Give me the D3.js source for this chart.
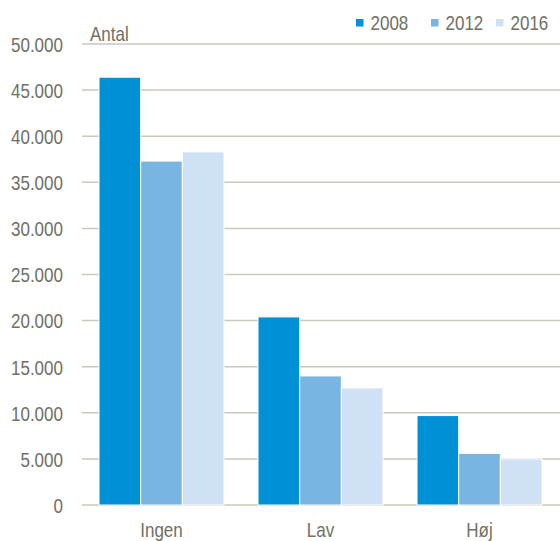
<!DOCTYPE html>
<html><head><meta charset="utf-8">
<script src="https://cdn.jsdelivr.net/npm/d3@7"></script>
<style>
body{margin:0;background:#fff;}
text{font-family:"Liberation Sans",Arial,sans-serif;fill:#707064;}
</style></head><body>
<svg id="c" width="560" height="541"></svg>
<script>
const categories = ["Ingen","Lav","Høj"];
const years = ["2008","2012","2016"];
const v2008 = [46400, 20400, 9700];
const v2012 = [37300, 14000, 5600];
const v2016 = [38300, 12700, 5000];
const yTicks = [0,5000,10000,15000,20000,25000,30000,35000,40000,45000,50000];
const colors = ["#0090d5","#78b5e3","#cfe1f5"];

const FS = "20.5px", SX = 0.83;
const series = [v2008, v2012, v2016];
const data = categories.map((c,i)=>({cat:c, vals: years.map((y,j)=>({year:y, v:series[j][i], j}))}));

const svg = d3.select("#c");
const loc = d3.formatLocale({decimal:",", thousands:".", grouping:[3], currency:["",""]});
const fmt = loc.format(",d");

const x = d3.scaleBand().domain(categories).range([82,559]).paddingInner(0.214).paddingOuter(0.107);
const x1 = d3.scaleBand().domain(years).range([0,x.bandwidth()]).padding(0);
const y = d3.scaleLinear().domain([0,50000]).range([505,44]);

// gridlines
svg.append("g").selectAll("line").data(yTicks).join("line")
  .attr("x1",82).attr("x2",560).attr("y1",d=>y(d)).attr("y2",d=>y(d))
  .attr("stroke","#c9c9bd").attr("stroke-width",1.5);

// y labels
const yAxis = d3.axisLeft(y).tickValues(yTicks).tickFormat(d=>fmt(d)).tickSize(0).tickPadding(0);
const ga = svg.append("g").attr("transform","translate(63,0)").call(yAxis);
ga.select(".domain").remove();
ga.selectAll("text").attr("x",0).attr("dy","0.36em").attr("fill","#707064")
  .attr("transform",`scale(${SX},1)`)
  .style("font-size",FS).style("font-family",'"Liberation Sans",Arial,sans-serif');

// bars
const g = svg.append("g").selectAll("g").data(data).join("g")
  .attr("transform",d=>`translate(${x(d.cat)},0)`);
g.selectAll("rect").data(d=>d.vals).join("rect")
  .attr("x",d=>x1(d.year)).attr("width",x1.bandwidth())
  .attr("y",d=>y(d.v)).attr("height",d=>y(0)-y(d.v))
  .attr("fill",d=>colors[d.j]).attr("stroke","#fff").attr("stroke-width",1);

// x labels
const xAxis = d3.axisBottom(x).tickSize(0).tickPadding(0);
const gx = svg.append("g").attr("transform","translate(0,536.5)").call(xAxis);
gx.select(".domain").remove();
gx.selectAll("text").attr("y",0).attr("dy","0").attr("fill","#707064")
  .attr("transform",`scale(${SX},1)`)
  .style("font-size",FS).style("font-family",'"Liberation Sans",Arial,sans-serif');

// Antal
svg.append("text").attr("transform",`translate(90,40.5) scale(${SX},1)`).style("font-size",FS).text("Antal");

// legend
const legX = [356, 431, 496];
const lg = svg.append("g").selectAll("g").data(years).join("g")
  .attr("transform",(d,i)=>`translate(${legX[i]},0)`);
lg.append("rect").attr("x",0).attr("y",19).attr("width",7.5).attr("height",7.5).attr("fill",(d,i)=>colors[i]);
lg.append("text").attr("transform",`translate(14.5,29.5) scale(${SX},1)`).style("font-size",FS).text(d=>d);
</script>
</body></html>
